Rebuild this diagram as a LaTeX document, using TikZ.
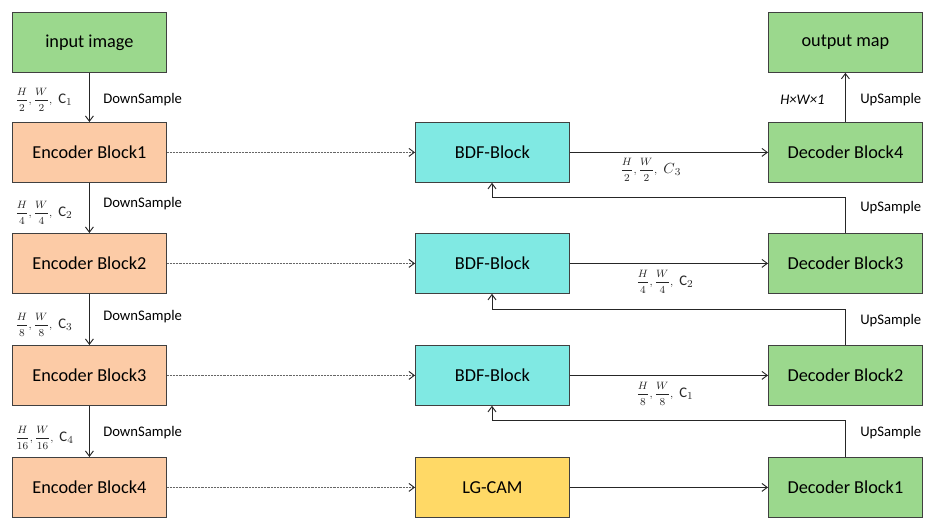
\documentclass[tikz,border=0pt]{standalone}
\usepackage{fontspec}
\setmainfont{Carlito}
\usetikzlibrary{arrows.meta}
\definecolor{cgreen}{HTML}{9BD88D}
\definecolor{cpeach}{HTML}{FCCBA6}
\definecolor{ccyan}{HTML}{80E9E3}
\definecolor{cyellow}{HTML}{FFD966}
\definecolor{cline}{HTML}{404040}
\newcommand{\fr}[3]{{\fontsize{8}{9}\selectfont$\displaystyle\frac{H}{#1},\frac{W}{#1},$}\ \ {\fontsize{11}{13}\selectfont #2$_{#3}$}}
\tikzset{
  blk/.style={draw=cline, line width=0.6pt, minimum width=115.5pt, minimum height=45pt, inner sep=0pt, font=\fontsize{13.7}{15}\selectfont, anchor=north west},
  enc/.style={blk, fill=cpeach},
  dec/.style={blk, fill=cgreen},
  bdf/.style={blk, fill=ccyan},
  cam/.style={blk, fill=cyellow},
  arr/.style={draw=black!85, line width=0.7pt, -{Straight Barb[length=4pt,width=6pt]}},
  dots/.style={draw=black!60, line width=1pt, dash pattern=on 0.6pt off 0.5pt, -{Straight Barb[length=4pt,width=6pt,line width=0.7pt,black!85]}},
  lbl/.style={font=\fontsize{11}{13}\selectfont, inner sep=0pt},
  frac/.style={inner sep=0pt, text=black!85}
}
\begin{document}
\begin{tikzpicture}[x=0.75pt, y=-0.75pt]
\useasboundingbox (0,0) rectangle (935,531);
% left column
\node[dec] (in) at (12,12) {input image};
\node[enc] (e1) at (12,122) {Encoder Block1};
\node[enc] (e2) at (12,233) {Encoder Block2};
\node[enc] (e3) at (12,345) {Encoder Block3};
\node[enc] (e4) at (12,457) {Encoder Block4};
% middle
\node[bdf] (b1) at (415,122) {BDF-Block};
\node[bdf] (b2) at (415,233) {BDF-Block};
\node[bdf] (b3) at (415,345) {BDF-Block};
\node[cam] (cam) at (415,457) {LG-CAM};
% right
\node[dec] (out) at (768,12) {output map};
\node[dec] (d4) at (768,122) {Decoder Block4};
\node[dec] (d3) at (768,233) {Decoder Block3};
\node[dec] (d2) at (768,345) {Decoder Block2};
\node[dec] (d1) at (768,457) {Decoder Block1};
% downsample arrows
\draw[arr] (in) -- (e1);
\draw[arr] (e1) -- (e2);
\draw[arr] (e2) -- (e3);
\draw[arr] (e3) -- (e4);
% skip connections
\draw[dots] (e1) -- (b1);
\draw[dots] (e2) -- (b2);
\draw[dots] (e3) -- (b3);
\draw[dots] (e4) -- (cam);
% to decoders
\draw[arr] (b1) -- (d4);
\draw[arr] (b2) -- (d3);
\draw[arr] (b3) -- (d2);
\draw[arr] (cam) -- (d1);
% upsample
\draw[arr] (d4) -- (out);
\coordinate (u3a) at (845,197);
\coordinate (u3b) at (492,197);
\coordinate (u2a) at (845,309);
\coordinate (u2b) at (492,309);
\coordinate (u1a) at (845,420);
\coordinate (u1b) at (492,420);
\draw[arr] (d3.north -| u3a) -- (u3a) -- (u3b) -- (b1.south -| u3b);
\draw[arr] (d2.north -| u2a) -- (u2a) -- (u2b) -- (b2.south -| u2b);
\draw[arr] (d1.north -| u1a) -- (u1a) -- (u1b) -- (b3.south -| u1b);
% labels left
\node[frac, anchor=west] (f1) at (15,100) {\fr{2}{C}{1}};
\node[frac, anchor=west] (f2) at (15,213) {\fr{4}{C}{2}};
\node[frac, anchor=west] (f3) at (15,325) {\fr{8}{C}{3}};
\node[frac, anchor=west] (f4) at (15,438) {\fr{16}{C}{4}};
\node[lbl, anchor=west] (ds1) at (103,100) {DownSample};
\node[lbl, anchor=west] (ds2) at (103,204) {DownSample};
\node[lbl, anchor=west] (ds3) at (103,317) {DownSample};
\node[lbl, anchor=west] (ds4) at (103,433) {DownSample};
% labels right
\node[frac, anchor=west] (g1) at (620,170) {\fr{2}{$C$}{3}};
\node[frac, anchor=west] (g2) at (636,282) {\fr{4}{C}{2}};
\node[frac, anchor=west] (g3) at (636,394) {\fr{8}{C}{1}};
\node[lbl, anchor=west] (us4) at (860,100) {UpSample};
\node[lbl, anchor=west] (us3) at (860,208) {UpSample};
\node[lbl, anchor=west] (us2) at (860,321) {UpSample};
\node[lbl, anchor=west] (us1) at (860,433) {UpSample};
\node[lbl, anchor=west] (hw) at (780,100) {\itshape H×W×1};
\end{tikzpicture}
\end{document}
